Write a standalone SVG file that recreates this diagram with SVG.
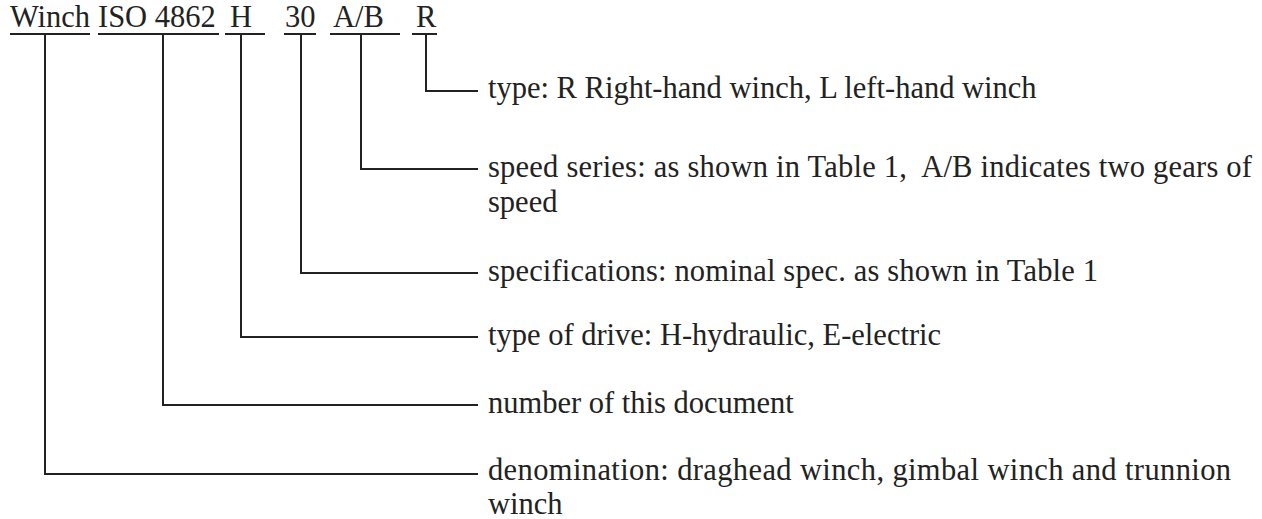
<svg xmlns="http://www.w3.org/2000/svg" width="1262" height="519" viewBox="0 0 1262 519">
<style>
text{font-family:"Liberation Serif","DejaVu Serif",serif;font-size:30.5px;fill:#222}
.ln{stroke:#222;stroke-width:2;fill:none}
</style>
<rect width="1262" height="519" fill="#fff"/>
<g id="code">
<text x="10" y="27">Winch</text>
<text x="98" y="27">ISO 4862</text>
<text x="230" y="27">H</text>
<text x="285" y="27">30</text>
<text x="333" y="27">A/B</text>
<text x="416" y="27">R</text>
<g class="ln">
<line x1="10" y1="34" x2="90" y2="34"/>
<line x1="98" y1="34" x2="219" y2="34"/>
<line x1="225" y1="34" x2="265" y2="34"/>
<line x1="284" y1="34" x2="316" y2="34"/>
<line x1="330" y1="34" x2="400" y2="34"/>
<line x1="412" y1="34" x2="437" y2="34"/>
</g>
</g>
<g id="connectors" class="ln">
<polyline points="426,34 426,91 478,91"/>
<polyline points="361,34 361,169 478,169"/>
<polyline points="301,34 301,273 478,273"/>
<polyline points="241,34 241,337 478,337"/>
<polyline points="163,34 163,405 478,405"/>
<polyline points="45,34 45,474 478,474"/>
</g>
<g id="n-type"><text x="488" y="98">type: R Right-hand winch, L left-hand winch</text></g>
<g id="n-speed"><text x="488" y="177" xml:space="preserve" textLength="764" lengthAdjust="spacing">speed series: as shown in Table 1,  A/B indicates two gears of</text><text x="488" y="212">speed</text></g>
<g id="n-spec"><text x="488" y="281" textLength="610" lengthAdjust="spacing">specifications: nominal spec. as shown in Table 1</text></g>
<g id="n-drive"><text x="488" y="345">type of drive: H-hydraulic, E-electric</text></g>
<g id="n-doc"><text x="488" y="413">number of this document</text></g>
<g id="n-denom"><text x="488" y="480" textLength="743" lengthAdjust="spacing">denomination: draghead winch, gimbal winch and trunnion</text><text x="488" y="514">winch</text></g>
</svg>
